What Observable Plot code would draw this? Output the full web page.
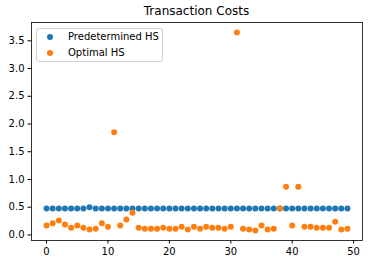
<!DOCTYPE html>
<html>
<head>
<meta charset="utf-8">
<script src="https://cdn.jsdelivr.net/npm/d3@7"></script>
<script src="https://cdn.jsdelivr.net/npm/@observablehq/plot@0.6"></script>
<style>
  body { margin: 0; background: #fff; font-family: "DejaVu Sans", sans-serif; }
  #wrap { position: relative; width: 372px; height: 264px; }
  #title { position: absolute; left: 31px; width: 331px; top: 4px; text-align: center; font-size: 12px; color: #000; }
  #chart { position: absolute; left: 0; top: 22px; }
  #legend { position: absolute; left: 36px; top: 28px; width: 125px; height: 32px; border: 1px solid #d0d0d0; border-radius: 3px; background: rgba(255,255,255,0.8); font-size: 10px; color: #000; }
  .item { position: absolute; left: 0; height: 14px; line-height: 14px; }
  .sw { position: absolute; left: 10px; top: 4px; width: 6px; height: 6px; border-radius: 50%; }
  .lb { position: absolute; left: 31px; top: 0; white-space: nowrap; }
</style>
</head>
<body>
<div id="wrap">
  <div id="title">Transaction Costs</div>
  <div id="chart"></div>
  <div id="legend"></div>
</div>
<script>
const seriesNames = ["Predetermined HS", "Optimal HS"];
const seriesColors = ["#1f77b4", "#ff7f0e"];
const predetermined = [
  0.475, 0.475, 0.475, 0.475, 0.475, 0.475, 0.475, 0.50, 0.475, 0.475,
  0.475, 0.475, 0.475, 0.475, 0.475, 0.475, 0.475, 0.475, 0.475, 0.475,
  0.475, 0.475, 0.475, 0.475, 0.475, 0.475, 0.475, 0.475, 0.475, 0.475,
  0.475, 0.475, 0.475, 0.475, 0.475, 0.475, 0.475, 0.475, 0.475, 0.475,
  0.475, 0.475, 0.475, 0.475, 0.475, 0.475, 0.475, 0.475, 0.475, 0.475
];
const optimal = [
  0.17, 0.21, 0.26, 0.19, 0.13, 0.17, 0.13, 0.10, 0.11, 0.21,
  0.15, 1.85, 0.17, 0.28, 0.40, 0.13, 0.11, 0.11, 0.11, 0.13,
  0.11, 0.11, 0.15, 0.10, 0.15, 0.11, 0.15, 0.13, 0.13, 0.11,
  0.15, 3.65, 0.11, 0.10, 0.08, 0.17, 0.10, 0.11, 0.475, 0.87,
  0.17, 0.87, 0.15, 0.15, 0.13, 0.13, 0.13, 0.24, 0.10, 0.11
];
const xTicks = [0, 10, 20, 30, 40, 50];
const yTicks = [0, 0.5, 1, 1.5, 2, 2.5, 3, 3.5];

const data = [];
predetermined.forEach((v, i) => data.push({i, v, s: seriesNames[0]}));
optimal.forEach((v, i) => data.push({i, v, s: seriesNames[1]}));

const chart = Plot.plot({
  width: 372,
  height: 242,
  marginLeft: 31,
  marginRight: 10,
  marginTop: 0,
  marginBottom: 24,
  style: { fontFamily: "DejaVu Sans, sans-serif", fontSize: "10px", color: "#000", background: "transparent" },
  x: { domain: [-2.45, 51.45], ticks: xTicks, tickSize: 3.5, tickPadding: 3.5, label: null },
  y: { domain: [-0.1, 3.83], ticks: yTicks, tickFormat: d3.format(".1f"), tickSize: 3.5, tickPadding: 3.5, label: null },
  color: { domain: seriesNames, range: seriesColors },
  marks: [
    Plot.dot(data, { x: "i", y: "v", fill: "s", r: 3, stroke: "none" }),
    Plot.frame({ stroke: "#000", strokeWidth: 0.8 })
  ]
});
document.getElementById("chart").appendChild(chart);

const legend = document.getElementById("legend");
seriesNames.forEach((name, k) => {
  const item = document.createElement("div");
  item.className = "item";
  item.style.top = (1 + k * 16) + "px";
  const sw = document.createElement("span");
  sw.className = "sw";
  sw.style.background = seriesColors[k];
  const lb = document.createElement("span");
  lb.className = "lb";
  lb.textContent = name;
  item.appendChild(sw);
  item.appendChild(lb);
  legend.appendChild(item);
});
</script>
</body>
</html>
